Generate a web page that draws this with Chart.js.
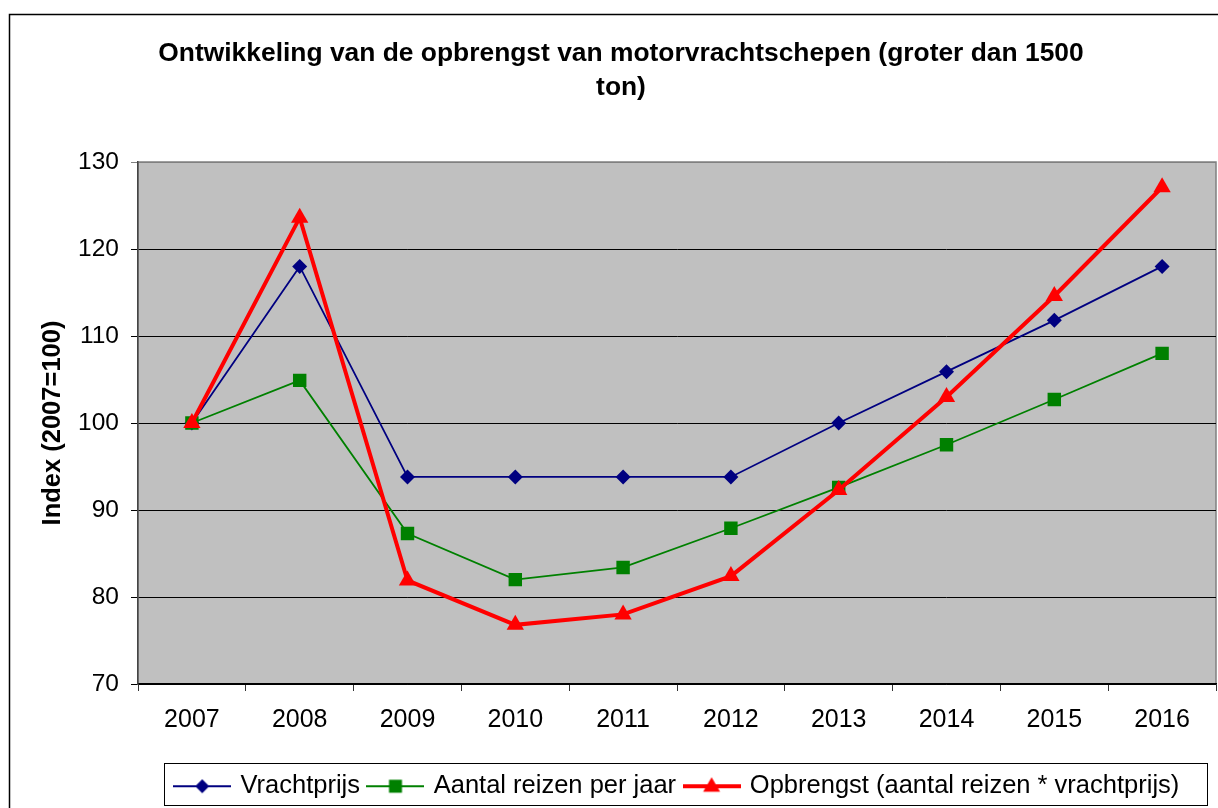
<!DOCTYPE html>
<html>
<head>
<meta charset="utf-8">
<script src="https://cdn.jsdelivr.net/npm/chart.js@4.4.1/dist/chart.umd.min.js"></script>
<style>
html,body{margin:0;padding:0;background:#fff;}
#wrap{width:1218px;height:808px;}
</style>
</head>
<body>
<div id="wrap"><canvas id="c" width="1218" height="808"></canvas></div>
<script>
const years = ['2007','2008','2009','2010','2011','2012','2013','2014','2015','2016'];
const vrachtprijs = [100, 118, 93.8, 93.8, 93.8, 93.8, 100, 105.9, 111.8, 118];
const aantalReizen = [100, 104.9, 87.3, 82.0, 83.4, 87.9, 92.6, 97.5, 102.7, 108.0];
const opbrengst = [100, 123.6, 81.9, 76.8, 78.0, 82.4, 92.3, 103.0, 114.6, 127.1];
const yTicks = [70, 80, 90, 100, 110, 120, 130];
const titleLines = ['Ontwikkeling van de opbrengst van motorvrachtschepen (groter dan 1500', 'ton)'];
const seriesNames = ['Vrachtprijs', 'Aantal reizen per jaar', 'Opbrengst (aantal reizen * vrachtprijs)'];

const FONT = '"Liberation Sans", Arial, sans-serif';

function legendIcon(color, lw, shape) {
  const cv = document.createElement('canvas');
  cv.width = 58; cv.height = 24;
  const g = cv.getContext('2d');
  g.strokeStyle = color; g.lineWidth = lw;
  g.beginPath(); g.moveTo(0, 12); g.lineTo(58, 12); g.stroke();
  g.fillStyle = color;
  g.beginPath();
  if (shape === 'diamond') { g.moveTo(29, 5); g.lineTo(36, 12); g.lineTo(29, 19); g.lineTo(22, 12); }
  else if (shape === 'square') { g.rect(22.5, 5.5, 13, 13); }
  else { g.moveTo(29, 3); g.lineTo(37.5, 17.5); g.lineTo(20.5, 17.5); }
  g.closePath(); g.fill();
  return cv;
}
const icons = [legendIcon('#000080', 2, 'diamond'), legendIcon('#008000', 2, 'square'), legendIcon('#FF0000', 4, 'triangle')];

const frame = {
  id: 'frame',
  beforeDraw(chart) {
    const {ctx, chartArea: a} = chart;
    ctx.save();
    ctx.fillStyle = '#fff';
    ctx.fillRect(0, 0, chart.width, chart.height);
    ctx.strokeStyle = '#000'; ctx.lineWidth = 1.5;
    ctx.beginPath();
    ctx.moveTo(9.5, 808); ctx.lineTo(9.5, 14.5); ctx.lineTo(1218, 14.5);
    ctx.stroke();
    ctx.fillStyle = '#C0C0C0';
    ctx.fillRect(a.left, a.top, a.right - a.left, a.bottom - a.top);
    ctx.strokeStyle = '#808080'; ctx.lineWidth = 1.5;
    ctx.strokeRect(a.left, a.top, a.right - a.left, a.bottom - a.top);
    ctx.restore();
  },
  afterLayout(chart) {
    const lg = chart.legend;
    if (lg) { lg.left += 57; lg.right += 57; }
  },
  afterDraw(chart) {
    const lg = chart.legend;
    if (!lg || !lg.legendHitBoxes || !lg.legendHitBoxes.length) return;
    const hb = lg.legendHitBoxes;
    let l = Infinity, r = -Infinity;
    hb.forEach(h => { l = Math.min(l, h.left); r = Math.max(r, h.left + h.width); });
    const ctx = chart.ctx;
    ctx.save();
    ctx.strokeStyle = '#000'; ctx.lineWidth = 1;
    ctx.strokeRect(Math.round(l - 12.5) + 0.5, 763.5, Math.round(r - l + 12.5 + 28), 42);
    ctx.restore();
  }
};

new Chart(document.getElementById('c'), {
  type: 'line',
  data: {
    labels: years,
    datasets: [
      { label: seriesNames[0], data: vrachtprijs, borderColor: '#000080', backgroundColor: '#000080',
        borderWidth: 1.8, pointStyle: 'rectRot', pointRadius: 7.5, pointBorderWidth: 0, order: 2, tension: 0 },
      { label: seriesNames[1], data: aantalReizen, borderColor: '#008000', backgroundColor: '#008000',
        borderWidth: 1.8, pointStyle: 'rect', pointRadius: 9.5, pointBorderWidth: 0, order: 1, tension: 0 },
      { label: seriesNames[2], data: opbrengst, borderColor: '#FF0000', backgroundColor: '#FF0000',
        borderWidth: 4, pointStyle: 'triangle', pointRadius: 10, pointBorderWidth: 0, order: 0, tension: 0 }
    ]
  },
  options: {
    responsive: false,
    animation: false,
    layout: { autoPadding: false, padding: { left: 26, right: 2, top: 0, bottom: -1 } },
    plugins: {
      title: {
        display: true, text: titleLines, color: '#000',
        font: { family: FONT, size: 26.4, weight: 'bold', lineHeight: '34px' },
        padding: { top: 37, bottom: 57 }
      },
      legend: {
        position: 'bottom',
        labels: {
          color: '#000',
          font: { family: FONT, size: 25.5 },
          usePointStyle: true, pointStyleWidth: 51, boxHeight: 20, padding: 10,
          sort: (a, b) => a.datasetIndex - b.datasetIndex,
          generateLabels: (chart) => chart.data.datasets.map((d, i) => ({
            text: d.label, pointStyle: icons[i], datasetIndex: i, fontColor: '#000',
            fillStyle: d.borderColor, strokeStyle: d.borderColor, lineWidth: 0, hidden: false
          }))
        }
      },
      tooltip: { enabled: false }
    },
    scales: {
      x: {
        offset: true,
        grid: { offset: true, drawOnChartArea: false, drawTicks: true, tickLength: 7, color: '#333', lineWidth: 1 },
        border: { display: true, color: '#000', width: 1.5 },
        ticks: { color: '#000', padding: 14, maxRotation: 0, autoSkip: false,
          font: { family: FONT, size: 25 } },
        afterFit: (s) => { s.height = 79.5; s.paddingLeft = 0; s.paddingRight = 0; }
      },
      y: {
        min: 70, max: 130,
        afterBuildTicks: (s) => { s.ticks = yTicks.map(v => ({ value: v })); },
        grid: { drawTicks: true, tickLength: 7, lineWidth: 1,
          color: (c) => (c.tick && c.tick.value === 130) ? '#808080' : '#000' },
        border: { display: true, color: '#444', width: 1.5 },
        ticks: { color: '#000', padding: 12,
          font: { family: FONT, size: 24.5 } },
        title: { display: true, text: 'Index (2007=100)', color: '#000',
          font: { family: FONT, size: 25.5, weight: 'bold' },
          padding: { top: 12, bottom: 0 } },
        afterFit: (s) => { s.width = 112; }
      }
    }
  },
  plugins: [frame]
});
</script>
</body>
</html>
